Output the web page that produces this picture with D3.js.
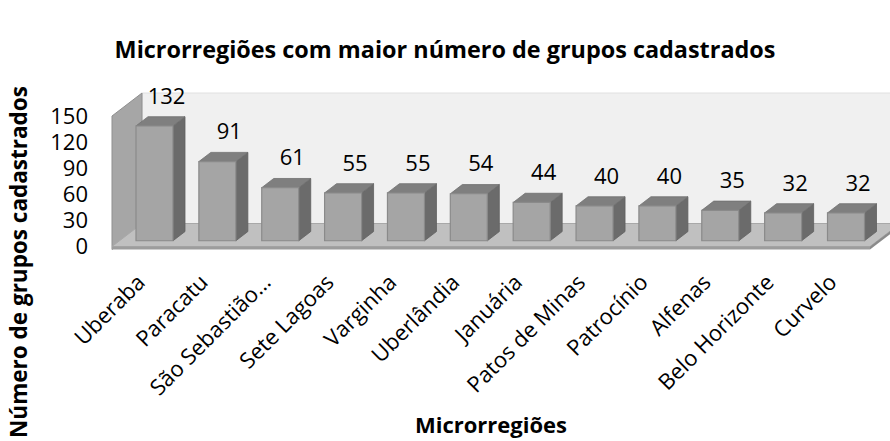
<!DOCTYPE html>
<html>
<head>
<meta charset="utf-8">
<script src="https://cdn.jsdelivr.net/npm/d3@7/dist/d3.min.js"></script>
<style>
  html, body { margin: 0; padding: 0; background: #fff; }
  svg { display: block; font-family: "Open Sans", Lato, sans-serif; }
</style>
</head>
<body>
<svg id="chart" width="890" height="441"></svg>
<script>
// data
var categories = ["Uberaba", "Paracatu", "São Sebastião…", "Sete Lagoas", "Varginha", "Uberlândia",
  "Januária", "Patos de Minas", "Patrocínio", "Alfenas", "Belo Horizonte", "Curvelo"];
var values = [132, 91, 61, 55, 55, 54, 44, 40, 40, 35, 32, 32];
var yTicks = [0, 30, 60, 90, 120, 150];

var titleText = "Microrregiões com maior número de grupos cadastrados";
var yTitle = "Número de grupos cadastrados";
var xTitle = "Microrregiões";

var svg = d3.select("#chart");

// oblique 3D: z=0 front plane, z=1 back wall
var DX = 30, DY = 23;
function P(x, y, z) { return [x + z * DX, y - z * DY]; }
function poly(pts) { return pts.map(function (p) { return p.join(","); }).join(" "); }

var x0 = 112, x1 = 870;
var y = d3.scaleLinear().domain([0, 150]).range([246.5, 116]);
var xc = d3.scalePoint().domain(categories).range([147, 838.5]);
var barW = 37, zA = 0.25, zB = 0.65, slab = 3;

var g = svg.append("g");

// back wall
g.append("polygon")
  .attr("points", poly([P(x0, y(0), 1), P(x1, y(0), 1), P(x1, y(150), 1), P(x0, y(150), 1)]))
  .attr("fill", "#f0f0f0").attr("stroke", "#e0e0e0");

// left side wall
g.append("polygon")
  .attr("points", poly([P(x0, y(0) + slab, 0), P(x0, y(150), 0), P(x0, y(150), 1), P(x0, y(0), 1)]))
  .attr("fill", "#a6a6a6").attr("stroke", "#8f8f8f").attr("stroke-width", 1);

// floor
g.append("polygon")
  .attr("points", poly([P(x0, y(0), 0), P(x1, y(0), 0), P(x1, y(0), 1), P(x0, y(0), 1)]))
  .attr("fill", "#c0c0c0").attr("stroke", "#a8a8a8");
g.append("polygon")
  .attr("points", poly([P(x0, y(0), 0), P(x1, y(0), 0), P(x1, y(0) + slab, 0), P(x0, y(0) + slab, 0)]))
  .attr("fill", "#9d9d9d");
g.append("polygon")
  .attr("points", poly([P(x1, y(0), 0), P(x1, y(0), 1), P(x1, y(0) + slab, 1), P(x1, y(0) + slab, 0)]))
  .attr("fill", "#8a8a8a");

// bars
var bars = g.selectAll("g.bar").data(values).enter().append("g").attr("class", "bar");
bars.append("polygon") // side
  .attr("points", function (v, i) {
    var r = xc(categories[i]) + barW / 2;
    return poly([P(r, y(0), zA), P(r, y(v), zA), P(r, y(v), zB), P(r, y(0), zB)]);
  })
  .attr("fill", "#6b6b6b").attr("stroke", "#5f5f5f").attr("stroke-width", 0.8);
bars.append("polygon") // top
  .attr("points", function (v, i) {
    var l = xc(categories[i]) - barW / 2, r = l + barW;
    return poly([P(l, y(v), zA), P(r, y(v), zA), P(r, y(v), zB), P(l, y(v), zB)]);
  })
  .attr("fill", "#7f7f7f").attr("stroke", "#707070").attr("stroke-width", 0.8);
bars.append("polygon") // front
  .attr("points", function (v, i) {
    var l = xc(categories[i]) - barW / 2, r = l + barW;
    return poly([P(l, y(0), zA), P(r, y(0), zA), P(r, y(v), zA), P(l, y(v), zA)]);
  })
  .attr("fill", "#a5a5a5").attr("stroke", "#8a8a8a").attr("stroke-width", 1.2);

// value labels
g.selectAll("text.val").data(values).enter().append("text")
  .attr("class", "val")
  .attr("x", function (v, i) { return P(xc(categories[i]), y(v), zB)[0]; })
  .attr("y", function (v, i) { return P(xc(categories[i]), y(v), zB)[1] - 21; })
  .attr("dy", "0.36em")
  .attr("text-anchor", "middle")
  .attr("font-size", 22).attr("fill", "#000")
  .text(function (v) { return v; });

// y tick labels
g.selectAll("text.tick").data(yTicks).enter().append("text")
  .attr("class", "tick")
  .attr("x", 88).attr("y", function (d) { return y(d); })
  .attr("dy", "0.36em").attr("text-anchor", "end")
  .attr("font-size", 22).attr("fill", "#000")
  .text(function (d) { return d; });

// category labels
g.selectAll("text.cat").data(categories).enter().append("text")
  .attr("class", "cat")
  .attr("text-anchor", "end")
  .attr("font-size", 22).attr("fill", "#000")
  .attr("transform", function (d) {
    var p = P(xc(d), y(0), zA);
    return "translate(" + (p[0] - 8) + "," + (p[1] + 43) + ") rotate(-45)";
  })
  .text(function (d) { return d; });

// titles
svg.append("text").attr("x", 445).attr("y", 58).attr("text-anchor", "middle")
  .attr("font-size", 23.4).attr("font-weight", "bold").text(titleText);
svg.append("text").attr("transform", "translate(27,262) rotate(-90)").attr("text-anchor", "middle")
  .attr("font-size", 22.5).attr("font-weight", "bold").text(yTitle);
svg.append("text").attr("x", 491).attr("y", 433).attr("text-anchor", "middle")
  .attr("font-size", 22).attr("font-weight", "bold").text(xTitle);
</script>
</body>
</html>
